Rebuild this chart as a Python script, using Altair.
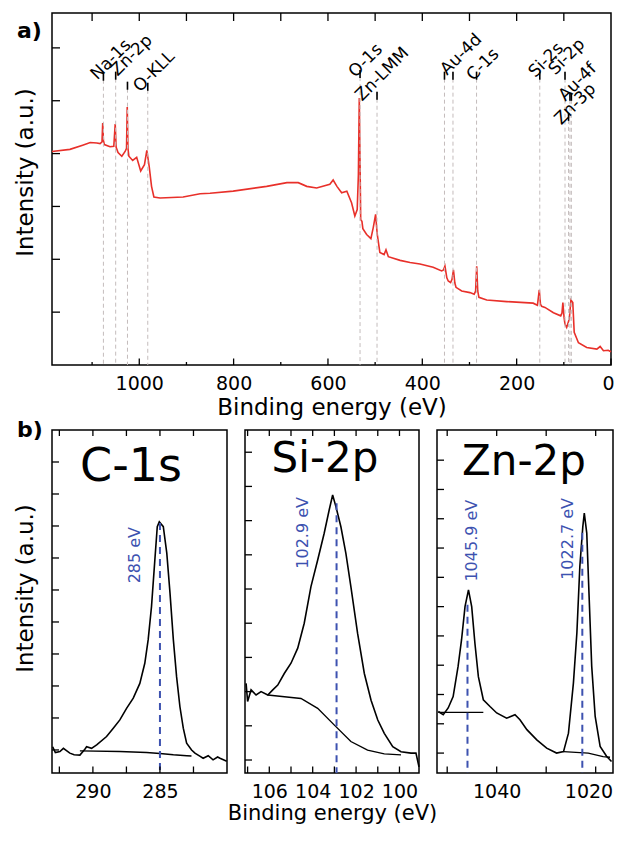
import altair as alt
import pandas as pd

FONT = "DejaVu Sans"
RED = "#e8302a"
BLUE = "#3d52b0"

# ---------------- (a) survey spectrum ----------------
survey_E = [1185, 1147, 1120, 1104, 1090, 1083, 1079, 1077.5, 1076, 1074, 1062, 1054, 1051, 1049,
            1045, 1037, 1030, 1027, 1025.5, 1024, 1022, 1014, 1005.5, 997, 989, 984, 979, 974, 969,
            956, 907, 871, 850, 801, 730, 687, 663, 645, 624, 596, 589, 581, 571, 560, 550, 543,
            538, 535.5, 533.6, 531.7, 530.6, 528, 526, 518, 509, 504, 499, 495.5, 490, 481, 477,
            472, 447, 426, 405, 377, 359, 355, 352, 348, 345, 340, 337, 334, 331, 328.6, 316.5,
            299, 290, 287, 284.7, 282.5, 280, 263.5, 221, 165, 156, 152, 149.5, 147, 140, 122,
            106.6, 104, 102, 99.5, 97.5, 94, 88.4, 85, 81, 78, 69, 51.5, 30, 23, 16, 6, 0]
survey_I = [4.04, 4.08, 4.16, 4.21, 4.20, 4.19, 4.22, 4.58, 4.25, 4.17, 4.13, 4.14, 4.56, 4.12,
            4.02, 3.95, 4.04, 4.10, 4.88, 4.10, 3.95, 3.87, 3.93, 3.67, 3.79, 4.06, 3.76, 3.38, 3.18,
            3.16, 3.18, 3.24, 3.25, 3.29, 3.38, 3.45, 3.45, 3.38, 3.35, 3.42, 3.50, 3.38, 3.26, 3.29,
            3.07, 2.82, 2.94, 3.60, 5.05, 3.60, 2.75, 2.72, 2.58, 2.47, 2.39, 2.60, 2.85, 2.47, 2.13,
            2.09, 2.18, 2.05, 1.98, 1.94, 1.91, 1.85, 1.78, 1.80, 1.87, 1.65, 1.59, 1.56, 1.62, 1.80,
            1.55, 1.47, 1.40, 1.37, 1.34, 1.40, 1.87, 1.40, 1.28, 1.23, 1.20, 1.17, 1.13, 1.42, 1.15,
            1.11, 1.09, 0.99, 0.93, 0.98, 1.18, 0.90, 0.77, 0.71, 0.87, 1.23, 1.18, 0.62, 0.42, 0.33,
            0.30, 0.35, 0.27, 0.28, 0.25]

# peak marker lines (energy, height of marker top)
line_E = [1076, 1050, 1025, 982, 532, 496, 353, 335, 285, 151, 97.5, 90, 87, 84]
line_top = [5.53, 5.55, 5.36, 5.34, 5.58, 5.17, 5.55, 5.55, 5.55, 5.55, 5.55, 4.77, 5.15, 5.15]

# peak names, anchored (left end of the slanted text) in data units
label_names = ["Na-1s", "Zn-2p", "O-KLL", "O-1s", "Zn-LMM", "Au-4d", "C-1s", "Si-2s", "Si-2p", "Au-4f", "Zn-3p"]
label_E = [1096.8, 1053.4, 1005.7, 549.9, 535.1, 354.9, 299.7, 168.3, 125.9, 104.7, 113.2]
label_top = [5.45, 5.52, 5.22, 5.49, 5.05, 5.54, 5.43, 5.49, 5.54, 5.05, 4.60]

survey_major = [0, 200, 400, 600, 800, 1000]
survey_minor = [100, 300, 500, 700, 900, 1100]
survey_top_ticks = [100, 200, 300, 400, 500, 600, 700, 800, 900, 1000, 1100]
survey_y_ticks = [1, 2, 3, 4, 5, 6]

# ---------------- (b) high resolution ----------------
c_E = [293.0, 292.8, 292.46, 292.2, 291.72, 291.4, 290.97, 290.6, 290.47, 290.1, 289.72, 288.98,
       288.48, 287.99, 287.49, 286.99, 286.50, 286.13, 285.88, 285.63, 285.38, 285.20, 285.05,
       284.75, 284.49, 284.25, 284.0, 283.76, 283.51, 283.26, 283.01, 282.64, 282.39, 282.0,
       281.78, 281.4, 281.04, 280.7, 280.52, 280.02]
c_I = [0.10, -0.08, -0.05, 0.05, -0.10, -0.15, -0.16, 0.02, 0.10, 0.05, 0.16, 0.42,
       0.68, 0.94, 1.30, 1.62, 2.08, 2.71, 3.44, 4.48, 5.94, 6.98, 7.13,
       6.98, 6.15, 4.90, 3.44, 2.29, 1.35, 0.68, 0.21, 0.00, -0.10, -0.20,
       -0.26, -0.18, -0.31, -0.22, -0.26, -0.35]
c_bg_E = [290.97, 288.0, 286.0, 285.0, 284.0, 283.0, 282.65]
c_bg_I = [-0.03, -0.05, -0.08, -0.11, -0.15, -0.18, -0.19]

si_E = [107.07, 107.0, 106.84, 106.61, 106.38, 106.07, 105.84, 105.61, 105.31, 105.0, 104.69, 104.39,
        104.08, 103.77, 103.47, 103.24, 103.08, 102.93, 102.70, 102.47, 102.24, 101.93, 101.62,
        101.31, 101.0, 100.70, 100.31, 99.93, 99.47, 99.24, 99.1]
si_I = [2.24, 1.71, 2.05, 1.90, 2.00, 1.90, 2.05, 2.19, 2.53, 2.83, 3.27, 4.00,
        5.07, 5.85, 6.63, 7.31, 7.75, 7.41, 6.82, 6.04, 5.07, 3.70, 2.53,
        1.75, 1.17, 0.78, 0.39, 0.24, 0.20, 0.20, -0.20]
si_bg_E = [106.07, 104.54, 103.77, 103.0, 102.24, 101.47, 100.70, 99.93]
si_bg_I = [1.90, 1.80, 1.51, 1.02, 0.54, 0.29, 0.18, 0.15]

zn_E = [1051.8, 1050.8, 1049.8, 1048.8, 1047.8, 1047.1, 1046.4, 1045.7, 1045.05, 1044.4, 1043.7,
        1042.7, 1041.35, 1040.0, 1038.0, 1036.3, 1035.3, 1033.9, 1031.9, 1029.9, 1027.9, 1026.5,
        1025.5, 1024.5, 1023.8, 1023.2, 1022.6, 1022.3, 1021.8, 1021.3, 1020.8, 1020.1, 1019.1,
        1017.8, 1016.8]
zn_I = [1.42, 1.31, 1.54, 1.93, 2.96, 3.87, 5.00, 5.57, 5.00, 3.75, 2.61,
        1.82, 1.59, 1.37, 1.19, 1.31, 1.14, 0.80, 0.45, 0.17, 0.00, 0.05,
        0.68, 2.39, 4.10, 6.37, 7.73, 8.19, 7.51, 5.23, 2.96, 1.25, 0.23,
        -0.11, -0.29]
zn_bg1_E = [1051.8, 1042.7]
zn_bg1_I = [1.39, 1.39]
zn_bg2_E = [1026.5, 1021.5, 1018.5, 1017.1]
zn_bg2_I = [0.05, 0.00, -0.12, -0.14]

# peak-position annotations: (line energy, line top), (label anchor energy, label top), text
c_peak = dict(E=[285.0], top=[7.09], lE=[286.5], ltop=[6.97], txt=["285 eV"])
si_peak = dict(E=[102.9], top=[7.51], lE=[104.22], ltop=[7.69], txt=["102.9 eV"])
zn_peak = dict(E=[1045.9, 1022.7], top=[5.06, 7.52], lE=[1043.98, 1024.59], ltop=[8.65, 8.71],
               txt=["1045.9 eV", "1022.7 eV"])

c_labels, c_ticks, c_dom, c_yticks, c_ydom = [290, 285], [292.5, 290, 287.5, 285, 282.5], [280, 293.05], list(range(0, 10)), [-0.72, 10.0]
si_labels, si_ticks, si_dom, si_yticks, si_ydom = [106, 104, 102, 100], [100, 101, 102, 103, 104, 105, 106, 107], [99.1, 107.12], list(range(0, 10)), [-0.38, 9.65]
zn_labels, zn_ticks, zn_dom, zn_yticks, zn_ydom = [1040, 1020], [1020, 1030, 1040, 1050], [1016.5, 1052.06], list(range(0, 11)), [-0.68, 11.03]


def xaxis_ticks(values, xs, H, top_len, bot_len, width=1.3):
    df = pd.DataFrame({"E": values})
    base = alt.Chart(df).mark_rule(color="black", strokeWidth=width)
    top = base.encode(x=alt.X("E:Q", scale=xs), y=alt.value(0), y2=alt.value(top_len))
    bot = base.encode(x=alt.X("E:Q", scale=xs), y=alt.value(H), y2=alt.value(H - bot_len))
    return [top, bot]


def yaxis_ticks(values, ys, length=8, width=1.3):
    df = pd.DataFrame({"I": values})
    return alt.Chart(df).mark_rule(color="black", strokeWidth=width).encode(
        y=alt.Y("I:Q", scale=ys), x=alt.value(0), x2=alt.value(length))


# ---------- survey chart ----------
SW, SH = 559, 352
xs_s = alt.Scale(domain=[0, 1185], reverse=True, nice=False, zero=False)
ys_s = alt.Scale(domain=[0, 6.66], nice=False, zero=False)

sdf = pd.DataFrame({"E": survey_E, "I": survey_I})
ldf = pd.DataFrame({"E": line_E, "I": line_top})
tdf = pd.DataFrame({"E": label_E, "I": label_top, "name": label_names})

sline = alt.Chart(sdf).mark_line(color=RED, strokeWidth=1.6).encode(
    x=alt.X("E:Q", scale=xs_s,
            axis=alt.Axis(values=survey_major, format="d", ticks=False, domain=False, grid=False,
                          labelFontSize=19, labelPadding=9, title="Binding energy (eV)",
                          titleFontSize=23, titlePadding=3, labelFlush=1, labelFlushOffset=3)),
    y=alt.Y("I:Q", scale=ys_s,
            axis=alt.Axis(labels=False, ticks=False, domain=False, grid=False,
                          title="Intensity (a.u.)", titleFontSize=23, titlePadding=15,
                          titleY=159)),
    order="E:Q")
dashed = alt.Chart(ldf).mark_rule(color="#c4bcbc", strokeDash=[4, 3], strokeWidth=1).encode(
    x=alt.X("E:Q", scale=xs_s), y=alt.Y("I:Q", scale=ys_s), y2=alt.value(SH))
markers = alt.Chart(ldf).mark_tick(orient="vertical", size=8, thickness=1.6, color="black",
                                   opacity=1, yOffset=4).encode(
    x=alt.X("E:Q", scale=xs_s), y=alt.Y("I:Q", scale=ys_s))
names = alt.Chart(tdf).mark_text(angle=315, align="left", baseline="middle",
                                 fontSize=17, font=FONT, color="black").encode(
    x=alt.X("E:Q", scale=xs_s), y=alt.Y("I:Q", scale=ys_s), text="name:N")
a_lab = alt.Chart(pd.DataFrame({"t": ["a)"]})).mark_text(
    align="left", baseline="alphabetic", fontSize=22, fontWeight="bold", font=FONT).encode(
    x=alt.value(-35), y=alt.value(25), text="t:N")

s_layers = [sline, dashed, markers, names, a_lab, yaxis_ticks(survey_y_ticks, ys_s, 8)]
s_layers += [xaxis_ticks(survey_top_ticks, xs_s, SH, 8, 0)[0]]
s_layers += [xaxis_ticks(survey_major, xs_s, SH, 0, 6.5)[1]]
s_layers += [xaxis_ticks(survey_minor, xs_s, SH, 0, 3)[1]]
survey = alt.layer(*s_layers).properties(width=SW, height=SH)

# ---------- high-resolution panels ----------
PH = 343


def panel(E, I, bgs, peak, xdom, labels, ticks, ydom, yticks, W, title, tsize, tx, ty,
          xtitle=None, ytitle=None, letter=False, flush=False):
    xs = alt.Scale(domain=xdom, reverse=True, nice=False, zero=False)
    ys = alt.Scale(domain=ydom, nice=False, zero=False)
    axkw = dict(values=labels, format="d", ticks=False, domain=False, grid=False,
                labelFontSize=19, labelPadding=9, titleFontSize=21, titlePadding=1,
                title=xtitle)
    if flush:
        axkw.update(labelFlush=20, labelFlushOffset=17)
    xa = alt.Axis(**axkw)
    ya = alt.Axis(labels=False, ticks=False, domain=False, grid=False, title=ytitle,
                  titleFontSize=23, titlePadding=15, titleY=158)
    df = pd.DataFrame({"E": E, "I": I})
    main = alt.Chart(df).mark_line(color="black", strokeWidth=1.6).encode(
        x=alt.X("E:Q", scale=xs, axis=xa), y=alt.Y("I:Q", scale=ys, axis=ya), order="E:Q")
    layers = [main]
    for bE, bI in bgs:
        bdf = pd.DataFrame({"E": bE, "I": bI})
        layers.append(alt.Chart(bdf).mark_line(color="black", strokeWidth=1.4).encode(
            x=alt.X("E:Q", scale=xs), y=alt.Y("I:Q", scale=ys), order="E:Q"))
    pdf = pd.DataFrame({"E": peak["E"], "I": peak["top"]})
    layers.append(alt.Chart(pdf).mark_rule(color=BLUE, strokeDash=[7, 5], strokeWidth=2).encode(
        x=alt.X("E:Q", scale=xs), y=alt.Y("I:Q", scale=ys), y2=alt.value(PH)))
    ldf_ = pd.DataFrame({"E": peak["lE"], "I": peak["ltop"], "t": peak["txt"]})
    layers.append(alt.Chart(ldf_).mark_text(angle=270, align="right", baseline="alphabetic",
                                            fontSize=16, font=FONT, color=BLUE).encode(
        x=alt.X("E:Q", scale=xs), y=alt.Y("I:Q", scale=ys), text="t:N"))
    layers.append(alt.Chart(pd.DataFrame({"t": [title]})).mark_text(
        align="center", baseline="alphabetic", fontSize=tsize, font=FONT, color="black").encode(
        x=alt.value(tx), y=alt.value(ty), text="t:N"))
    if letter:
        layers.append(alt.Chart(pd.DataFrame({"t": ["b)"]})).mark_text(
            align="left", baseline="alphabetic", fontSize=22, fontWeight="bold", font=FONT).encode(
            x=alt.value(-35), y=alt.value(7), text="t:N"))
    layers.append(yaxis_ticks(yticks, ys, 7))
    layers += xaxis_ticks(ticks, xs, PH, 6, 6.5)
    return alt.layer(*layers).properties(width=W, height=PH)


pc = panel(c_E, c_I, [(c_bg_E, c_bg_I)], c_peak, c_dom, c_labels, c_ticks, c_ydom, c_yticks,
           175, "C-1s", 46, 79, 51, ytitle="Intensity (a.u.)", letter=True)
ps = panel(si_E, si_I, [(si_bg_E, si_bg_I)], si_peak, si_dom, si_labels, si_ticks, si_ydom, si_yticks,
           174, "Si-2p", 42, 80, 42, xtitle="Binding energy (eV)")
pz = panel(zn_E, zn_I, [(zn_bg1_E, zn_bg1_I), (zn_bg2_E, zn_bg2_I)], zn_peak, zn_dom, zn_labels,
           zn_ticks, zn_ydom, zn_yticks, 176, "Zn-2p", 42, 87, 45, flush=True)

bottom = alt.hconcat(pc, ps, pz, spacing=18, bounds="flush")

chart = alt.vconcat(survey, bottom, spacing=65, bounds="flush").properties(
    autosize=alt.AutoSizeParams(type="none"),
    padding={"left": 44, "top": 5, "right": 562, "bottom": 813}
).configure_view(stroke="black", strokeWidth=1.5).configure_axis(
    labelFont=FONT, titleFont=FONT, labelColor="black", titleColor="black",
    titleFontWeight="normal", grid=False, ticks=False, domain=False
).configure_text(font=FONT)

chart.save("out.html", embed_options={"renderer": "svg", "actions": False})
